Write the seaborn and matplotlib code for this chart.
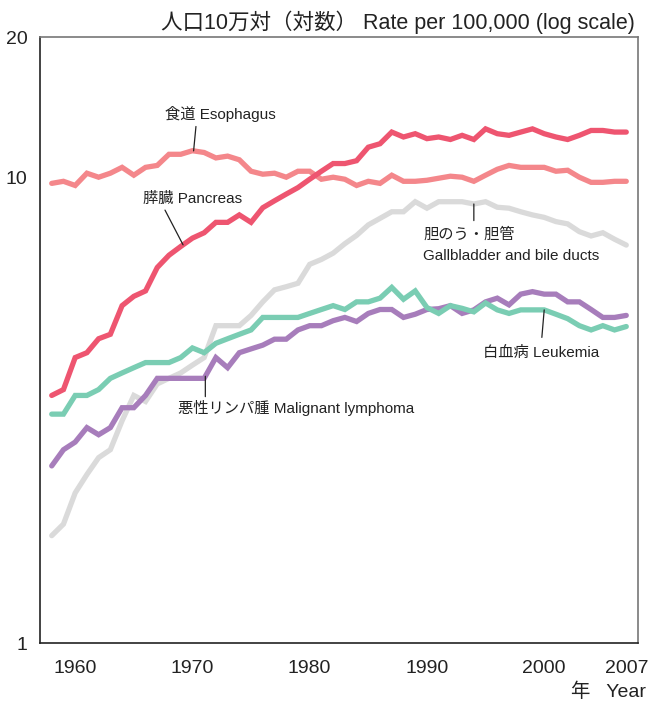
import numpy as np
import pandas as pd
import matplotlib
matplotlib.use("Agg")
import matplotlib.pyplot as plt
import seaborn as sns
from matplotlib.ticker import NullLocator, FixedLocator, FixedFormatter

sns.set_style("white")
plt.rcParams['font.family'] = ['Liberation Sans', 'Noto Sans CJK JP', 'DejaVu Sans']

years = list(range(1958, 2008))

esophagus = [9.7, 9.8, 9.6, 10.2, 10.0, 10.2, 10.5, 10.1, 10.5, 10.6,
             11.2, 11.2, 11.4, 11.3, 11.0, 11.1, 10.9, 10.3, 10.15, 10.2,
             10.0, 10.3, 10.3, 9.9, 10.0, 9.9, 9.6, 9.8, 9.7, 10.1,
             9.8, 9.8, 9.85, 9.95, 10.05, 10.0, 9.8, 10.1, 10.4, 10.6,
             10.5, 10.5, 10.5, 10.3, 10.35, 10.0, 9.75, 9.75, 9.8, 9.8]

pancreas = [3.4, 3.5, 4.1, 4.2, 4.5, 4.6, 5.3, 5.55, 5.7, 6.4,
            6.8, 7.1, 7.4, 7.6, 8.0, 8.0, 8.3, 8.0, 8.6, 8.9,
            9.2, 9.5, 9.9, 10.3, 10.7, 10.7, 10.85, 11.6, 11.8, 12.5,
            12.2, 12.4, 12.1, 12.2, 12.05, 12.3, 12.05, 12.7, 12.4, 12.3,
            12.5, 12.7, 12.4, 12.2, 12.05, 12.3, 12.6, 12.6, 12.5, 12.5]

gallbladder = [1.7, 1.8, 2.1, 2.3, 2.5, 2.6, 3.0, 3.4, 3.3, 3.6,
               3.7, 3.8, 3.95, 4.1, 4.8, 4.8, 4.8, 5.05, 5.4, 5.73,
               5.82, 5.92, 6.5, 6.66, 6.87, 7.2, 7.5, 7.9, 8.16, 8.43,
               8.43, 8.86, 8.58, 8.86, 8.86, 8.86, 8.76, 8.86, 8.62, 8.58,
               8.43, 8.3, 8.2, 8.03, 7.94, 7.64, 7.48, 7.6, 7.36, 7.15]

lymphoma = [2.4, 2.6, 2.7, 2.9, 2.8, 2.9, 3.2, 3.2, 3.4, 3.7,
            3.7, 3.7, 3.7, 3.7, 4.1, 3.9, 4.2, 4.28, 4.36, 4.49,
            4.49, 4.7, 4.8, 4.8, 4.92, 5.0, 4.9, 5.1, 5.2, 5.2,
            5.0, 5.08, 5.2, 5.22, 5.3, 5.1, 5.19, 5.4, 5.5, 5.32,
            5.61, 5.68, 5.61, 5.61, 5.4, 5.4, 5.2, 5.0, 5.0, 5.05]

leukemia = [3.1, 3.1, 3.4, 3.4, 3.5, 3.7, 3.8, 3.9, 4.0, 4.0,
            4.0, 4.1, 4.3, 4.2, 4.4, 4.5, 4.6, 4.7, 5.0, 5.0,
            5.0, 5.0, 5.1, 5.2, 5.3, 5.2, 5.4, 5.4, 5.5, 5.8,
            5.47, 5.7, 5.25, 5.1, 5.3, 5.23, 5.14, 5.37, 5.19, 5.1,
            5.19, 5.19, 5.19, 5.08, 4.97, 4.8, 4.7, 4.8, 4.7, 4.78]

series_names = ["gallbladder", "esophagus", "pancreas", "lymphoma", "leukemia"]
series_values = [gallbladder, esophagus, pancreas, lymphoma, leukemia]
colors = ["#DADADA", "#F4878B", "#EE5570", "#A77DBB", "#7ACDB3"]

ytick_vals = [1, 10, 20]
ytick_labels = ["1", "10", "20"]
xtick_vals = [1960, 1970, 1980, 1990, 2000, 2007]
xtick_labels = ["1960", "1970", "1980", "1990", "2000", "2007"]

df = pd.concat([pd.DataFrame({"year": years, "rate": v, "site": n})
                for n, v in zip(series_names, series_values)], ignore_index=True)

fig = plt.figure(figsize=(6.48, 7.02), dpi=100)
ax = fig.add_axes([40/648, 1-643/702, 598/648, 606/702])

sns.lineplot(data=df, x="year", y="rate", hue="site", hue_order=series_names,
             palette=colors, linewidth=3.8, legend=False, ax=ax,
             solid_joinstyle="miter")

ax.set_yscale("log")
ax.set_ylim(1, 20)
ax.set_xlim(1957, 2008)
ax.yaxis.set_major_locator(FixedLocator(ytick_vals))
ax.yaxis.set_major_formatter(FixedFormatter(ytick_labels))
ax.yaxis.set_minor_locator(NullLocator())
ax.set_xticks(xtick_vals)
ax.set_xticklabels(xtick_labels)
ax.set_xlabel("")
ax.set_ylabel("")
ax.tick_params(axis="both", direction="out", length=7, width=1, color="#888888",
               labelsize=14, labelcolor="#222222", pad=2)
ax.tick_params(axis="x", pad=5.5)

for side in ["left", "bottom"]:
    ax.spines[side].set_color("#222222")
    ax.spines[side].set_linewidth(1.2)
for side in ["top", "right"]:
    ax.spines[side].set_color("#777777")
    ax.spines[side].set_linewidth(1.2)
    ax.spines[side].set_visible(True)

def yv(arr, yr):
    return float(np.exp(np.interp(yr, years, np.log(arr))))

lk = dict(arrowstyle="-", color="#222222", lw=0.9, shrinkA=0, shrinkB=0)
tk = dict(fontsize=11, color="#222222")

# Esophagus
ax.text(1972.4, 13.7, "食道 Esophagus", ha="center", va="center", **tk)
ax.annotate("", xy=(1970.1, yv(esophagus, 1970.1)), xytext=(1970.3, 12.85), arrowprops=lk)
# Pancreas
ax.text(1965.8, 8.98, "膵臓 Pancreas", ha="left", va="center", **tk)
ax.annotate("", xy=(1969.2, yv(pancreas, 1969.2)), xytext=(1967.66, 8.5), arrowprops=lk)
# Gallbladder
ax.text(1989.7, 7.51, "胆のう・胆管", ha="left", va="center", **tk)
ax.text(1989.7, 6.78, "Gallbladder and bile ducts", ha="left", va="center", **tk)
ax.annotate("", xy=(1994.0, yv(gallbladder, 1994.0)), xytext=(1994.0, 8.07), arrowprops=lk)
# Leukemia
ax.text(1994.8, 4.2, "白血病 Leukemia", ha="left", va="center", **tk)
ax.annotate("", xy=(2000.0, yv(leukemia, 2000.0)), xytext=(1999.8, 4.53), arrowprops=lk)
# Lymphoma
ax.text(1968.8, 3.2, "悪性リンパ腫 Malignant lymphoma", ha="left", va="center", **tk)
ax.annotate("", xy=(1971.1, yv(lymphoma, 1971.1)), xytext=(1971.1, 3.38), arrowprops=lk)

ax.text(0.995, 1.025, "人口10万対（対数） Rate per 100,000 (log scale)", transform=ax.transAxes,
        ha="right", va="center", fontsize=15.5, color="#222222")
ax.text(1.014, -0.08, "年   Year", transform=ax.transAxes,
        ha="right", va="center", fontsize=14, color="#222222")

fig.savefig("out.png", dpi=100)
